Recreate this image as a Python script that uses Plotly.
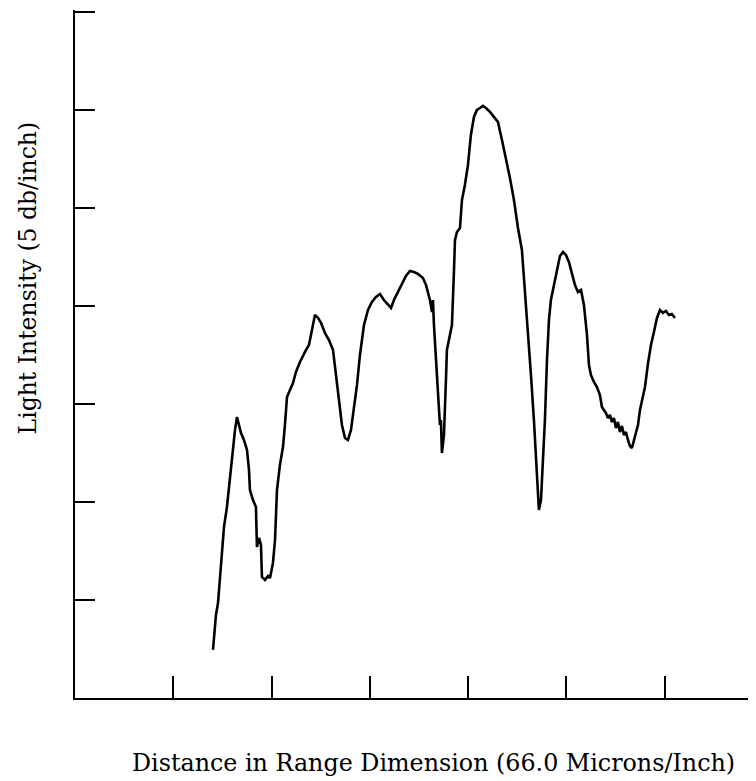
import plotly.graph_objects as go

# Distance (inches on chart, 66.0 microns/inch)
distance = [1.404, 1.434, 1.455, 1.475, 1.495, 1.516, 1.546, 1.577, 1.607, 1.628,
            1.648, 1.668, 1.689, 1.719, 1.750, 1.770, 1.780, 1.811, 1.841, 1.851,
            1.872, 1.892, 1.902, 1.933, 1.963, 1.984, 2.014, 2.035, 2.055, 2.085,
            2.116, 2.136, 2.157, 2.187, 2.218, 2.248, 2.289, 2.340, 2.380, 2.411,
            2.441, 2.472, 2.503, 2.543, 2.584, 2.625, 2.655, 2.686, 2.716, 2.747,
            2.777, 2.808, 2.838, 2.869, 2.899, 2.940, 2.981, 3.021, 3.062, 3.103,
            3.143, 3.184, 3.215, 3.245, 3.286, 3.327, 3.367, 3.408, 3.449, 3.489,
            3.540, 3.571, 3.591, 3.611, 3.632, 3.642, 3.652, 3.672, 3.693, 3.703,
            3.713, 3.723, 3.733, 3.754, 3.764, 3.774, 3.784, 3.815, 3.835, 3.856,
            3.866, 3.886, 3.917, 3.937, 3.967, 3.998, 4.028, 4.059, 4.089, 4.120,
            4.150, 4.181, 4.222, 4.262, 4.303, 4.344, 4.385, 4.425, 4.466, 4.507,
            4.547, 4.578, 4.608, 4.639, 4.669, 4.690, 4.710, 4.720, 4.741, 4.761,
            4.781, 4.802, 4.822, 4.842, 4.873, 4.903, 4.934, 4.965, 4.995, 5.025,
            5.056, 5.087, 5.117, 5.148, 5.178, 5.209, 5.229, 5.249, 5.280, 5.310,
            5.341, 5.361, 5.381, 5.402, 5.422, 5.442, 5.463, 5.483, 5.504, 5.524,
            5.544, 5.565, 5.585, 5.605, 5.626, 5.646, 5.666, 5.687, 5.707, 5.728,
            5.748, 5.768, 5.799, 5.829, 5.860, 5.890, 5.921, 5.951, 5.982, 6.012,
            6.043, 6.073, 6.104]

# Light intensity (inches on chart, 5 db/inch)
intensity = [0.490, 0.847, 0.969, 1.204, 1.480, 1.745, 1.949, 2.255, 2.561, 2.735,
             2.867, 2.786, 2.704, 2.633, 2.531, 2.327, 2.122, 2.020, 1.949, 1.541,
             1.633, 1.561, 1.235, 1.204, 1.245, 1.224, 1.378, 1.612, 2.122, 2.378,
             2.561, 2.786, 3.071, 3.143, 3.214, 3.327, 3.429, 3.531, 3.602, 3.755,
             3.908, 3.878, 3.827, 3.724, 3.653, 3.551, 3.296, 3.041, 2.786, 2.653,
             2.633, 2.735, 2.939, 3.194, 3.500, 3.806, 3.959, 4.041, 4.092, 4.122,
             4.061, 4.010, 3.980, 4.061, 4.143, 4.224, 4.306, 4.357, 4.347, 4.327,
             4.286, 4.214, 4.133, 4.061, 3.939, 4.061, 3.806, 3.449, 3.092, 2.857,
             2.786, 2.837, 2.500, 2.684, 2.908, 3.245, 3.551, 3.704, 3.806, 4.367,
             4.673, 4.755, 4.796, 5.082, 5.235, 5.439, 5.745, 5.929, 6.000, 6.020,
             6.041, 6.020, 5.980, 5.929, 5.878, 5.694, 5.510, 5.306, 5.082, 4.796,
             4.571, 4.163, 3.755, 3.296, 2.837, 2.429, 2.071, 1.918, 2.020, 2.429,
             2.837, 3.449, 3.857, 4.061, 4.214, 4.388, 4.510, 4.551, 4.520, 4.449,
             4.316, 4.214, 4.143, 4.163, 4.010, 3.704, 3.398, 3.296, 3.224, 3.173,
             3.092, 2.969, 2.939, 2.908, 2.857, 2.888, 2.816, 2.857, 2.755, 2.816,
             2.714, 2.776, 2.684, 2.714, 2.633, 2.571, 2.551, 2.633, 2.714, 2.786,
             2.939, 3.020, 3.173, 3.408, 3.602, 3.735, 3.878, 3.959, 3.929, 3.949,
             3.908, 3.918, 3.878]

x_ticks = [1, 2, 3, 4, 5, 6]
y_ticks = [1, 2, 3, 4, 5, 6, 7]

x_title = "Distance in Range Dimension (66.0 Microns/Inch)"
y_title = "Light Intensity (5 db/inch)"

FONT = "DejaVu Serif"

fig = go.Figure()
fig.add_trace(go.Scatter(
    x=distance, y=intensity, mode="lines",
    line=dict(color="black", width=2.6),
    hoverinfo="skip", showlegend=False,
))

fig.update_xaxes(
    range=[0, 7.01], tickvals=x_ticks, showticklabels=False,
    ticks="inside", ticklen=22, tickwidth=1.6, tickcolor="black",
    showline=True, linecolor="black", linewidth=2,
    showgrid=False, zeroline=False, fixedrange=True,
)
fig.update_yaxes(
    range=[0, 7.02], tickvals=y_ticks, showticklabels=False,
    ticks="inside", ticklen=20, tickwidth=2, tickcolor="black",
    showline=True, linecolor="black", linewidth=1.6,
    showgrid=False, zeroline=False, fixedrange=True,
)

fig.add_annotation(
    text=x_title, xref="paper", yref="paper", x=0.52, y=-0.094,
    showarrow=False, xanchor="center", yanchor="middle",
    font=dict(family=FONT, size=23.8, color="black"),
)
fig.add_annotation(
    text=y_title, xref="paper", yref="paper", x=-0.068, y=0.61,
    showarrow=False, xanchor="center", yanchor="middle", textangle=-90,
    font=dict(family=FONT, size=23.5, color="black"),
)

fig.update_layout(
    width=756, height=781,
    margin=dict(l=67, r=0, t=2, b=91),
    paper_bgcolor="white", plot_bgcolor="white",
)

fig.write_html("out.html")
